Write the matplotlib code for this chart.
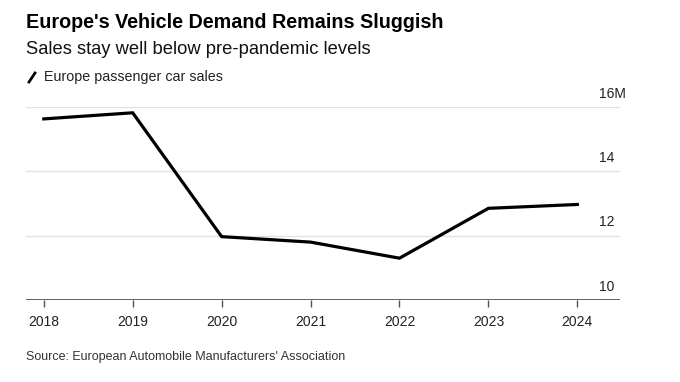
import matplotlib.pyplot as plt
from matplotlib.lines import Line2D

plt.rcParams['font.family'] = ['Liberation Sans', 'DejaVu Sans']

# Europe passenger car sales, millions
years = [2018, 2019, 2020, 2021, 2022, 2023, 2024]
sales = [15.63, 15.82, 11.97, 11.8, 11.3, 12.85, 12.97]
y_ticks = [10, 12, 14, 16]
y_labels = ['10', '12', '14', '16M']

fig = plt.figure(figsize=(6.8, 3.82), dpi=100)
ax = fig.add_axes([26/680, 1 - 300/382, (620 - 26)/680, (300 - 107)/382])

ax.plot(years, sales, color='black', lw=2.3, solid_joinstyle='miter', zorder=3)

ax.set_xlim(2017.8, 2024.48)
ax.set_ylim(10, 16)

# horizontal grid
for v in y_ticks[1:]:
    ax.axhline(v, color='#e2e2e2', lw=1, zorder=1)
ax.axhline(10, color='#555555', lw=1.3, zorder=2)

# right-side value labels, sitting above the gridlines
for v, lab in zip(y_ticks, y_labels):
    ax.text(2024.24, v + 0.2, lab, fontsize=10, color='#222222',
            ha='left', va='bottom', clip_on=False)

for s in ax.spines.values():
    s.set_visible(False)
ax.set_yticks([])
ax.set_xticks(years)
ax.set_xticklabels([str(y) for y in years], fontsize=10, color='#222222')
ax.tick_params(axis='x', length=5, width=1, color='#555555', pad=6)

fig.text(26/680, 1 - 22/382, "Europe's Vehicle Demand Remains Sluggish",
         fontsize=14.2, fontweight='bold', color='black', va='center')
fig.text(26/680, 1 - 50/382, "Sales stay well below pre-pandemic levels",
         fontsize=13.2, color='#111111', va='center')

# legend: slash icon + label
fig.add_artist(Line2D([29/680, 35/680], [1 - 82/382, 1 - 73/382],
                      color='black', lw=2, transform=fig.transFigure))
fig.text(44/680, 1 - 77/382, "Europe passenger car sales",
         fontsize=10.3, color='#222222', va='center')

fig.text(26/680, 1 - 357/382, "Source: European Automobile Manufacturers' Association",
         fontsize=9, color='#333333', va='center')

fig.savefig('out.png', dpi=100, facecolor='white')
